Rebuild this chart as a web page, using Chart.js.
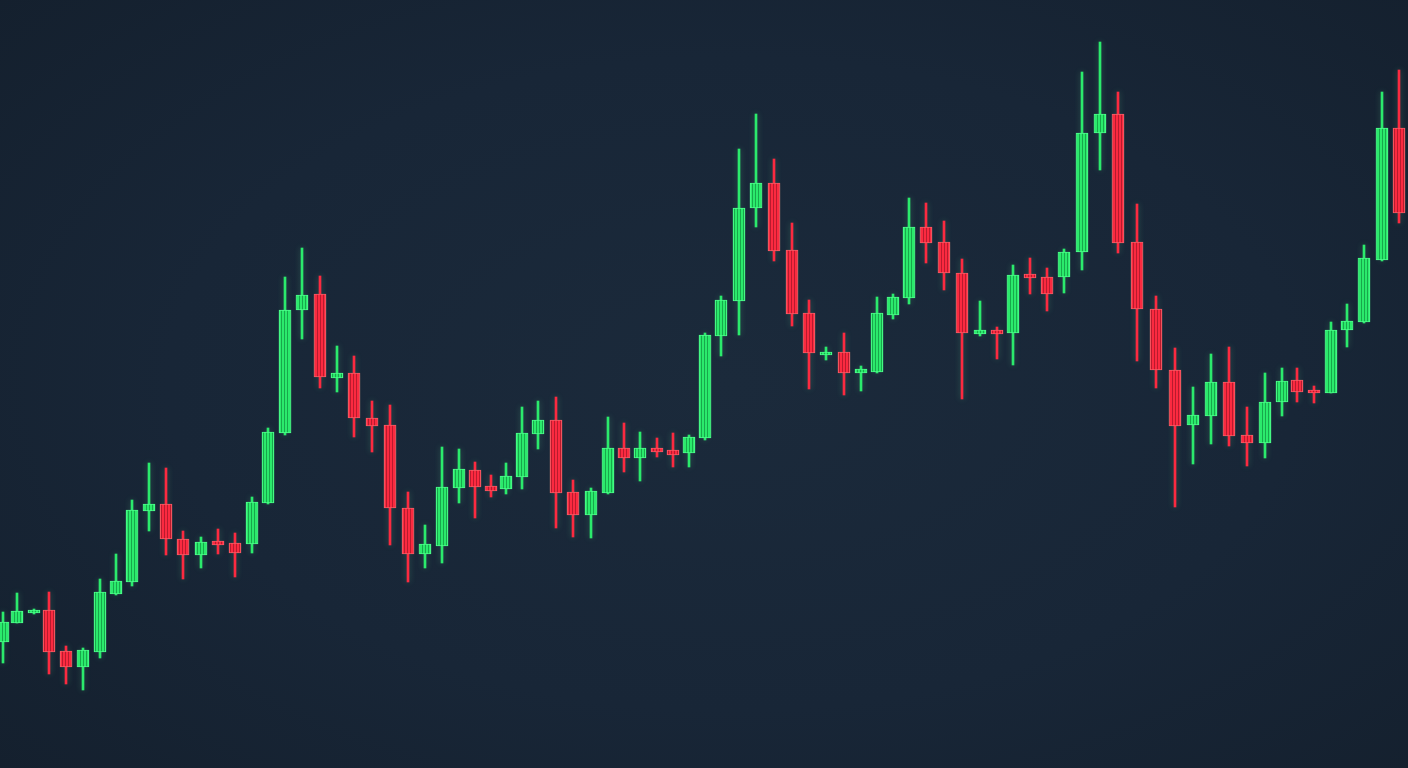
<!DOCTYPE html>
<html>
<head>
<meta charset="utf-8">
<script src="https://cdn.jsdelivr.net/npm/chart.js@4.4.1/dist/chart.umd.min.js"></script>
<style>
    html, body {
        margin: 0;
        padding: 0;
        width: 1408px;
        height: 768px;
        overflow: hidden;
        background: radial-gradient(ellipse 80% 85% at 52% 50%, #1b2a3b 0%, #182637 50%, #131e2b 100%);
    }
    .wrap {
        position: relative;
        width: 1408px;
        height: 768px;
    }
</style>
</head>
<body>
<div class="wrap"><canvas id="candles"></canvas></div>
<script>
//--------------------------------------------Data

// session time (uneven spacing as seen in the picture)
const times = [
    3, 17, 34, 49, 66, 83, 100, 116, 132, 149,
    166, 183, 201, 218, 235, 252, 268, 285, 302, 320,
    337, 354, 372, 390, 408, 425, 442, 459, 475, 491,
    506, 522, 538, 556, 573, 591, 608, 624, 640, 657,
    673, 689, 705, 721, 739, 756, 774, 792, 809, 826,
    844, 861, 877, 893, 909, 926, 944, 962, 980, 997,
    1013, 1030, 1047, 1064, 1082, 1100, 1118, 1137, 1156, 1175,
    1193, 1211, 1229, 1247, 1265, 1282, 1297, 1314, 1331, 1347,
    1364, 1382, 1399
];

const opens = [
    158, 177, 187, 190, 149, 133, 148, 206, 218, 289,
    296, 261, 245, 259, 257, 256, 297, 367, 490, 506,
    422, 427, 382, 375, 292, 246, 254, 312, 330, 314,
    311, 323, 366, 380, 308, 285, 307, 352, 342, 352,
    350, 347, 362, 464, 499, 592, 617, 550, 487, 445,
    448, 427, 428, 485, 502, 573, 558, 527, 466, 470,
    467, 526, 523, 523, 548, 667, 686, 558, 491, 430,
    375, 384, 418, 365, 357, 398, 420, 410, 407, 470,
    478, 540, 672
];

const highs = [
    188, 207, 191, 208, 154, 152, 221, 246, 300, 337,
    332, 269, 263, 271, 267, 303, 372, 523, 552, 524,
    454, 444, 399, 395, 308, 275, 353, 351, 338, 325,
    337, 393, 399, 403, 320, 312, 383, 377, 368, 362,
    367, 365, 467, 504, 651, 686, 641, 577, 500, 453,
    467, 434, 503, 506, 602, 597, 579, 541, 499, 473,
    535, 542, 532, 551, 728, 758, 708, 596, 504, 452,
    413, 446, 453, 393, 427, 432, 432, 414, 478, 496,
    555, 708, 730
];

const lows = [
    137, 177, 186, 126, 116, 110, 142, 205, 214, 269,
    245, 221, 232, 246, 223, 247, 296, 365, 461, 412,
    408, 363, 348, 255, 218, 232, 237, 297, 282, 303,
    306, 311, 351, 272, 263, 262, 306, 328, 319, 343,
    333, 333, 360, 444, 465, 573, 539, 474, 411, 440,
    405, 409, 427, 481, 496, 537, 510, 401, 464, 441,
    435, 506, 489, 507, 530, 630, 547, 439, 412, 293,
    336, 356, 354, 334, 342, 384, 398, 397, 407, 453,
    477, 539, 577
];

const closes = [
    178, 189, 190, 148, 133, 150, 208, 219, 290, 296,
    261, 245, 258, 255, 247, 298, 368, 490, 505, 423,
    427, 382, 374, 292, 246, 256, 313, 331, 313, 309,
    324, 367, 380, 307, 285, 309, 352, 342, 352, 348,
    345, 363, 465, 500, 592, 617, 549, 486, 447, 448,
    427, 431, 487, 503, 573, 557, 527, 467, 470, 466,
    525, 522, 506, 548, 667, 686, 557, 491, 430, 374,
    385, 418, 364, 357, 398, 419, 408, 407, 470, 479,
    542, 672, 587
];

const upColor = '#2bea6c';
const upDark = '#17a84b';
const upEdge = '#4dff8c';
const downColor = '#fb2a40';
const downDark = '#b81b2e';
const downEdge = '#ff5565';

//--------------------------------------------Functions

// vertical stripes like the glowing bodies in the picture
function stripes(light, dark) {
    const c = document.createElement('canvas');
    c.width = 3;
    c.height = 4;
    const g = c.getContext('2d');
    g.fillStyle = light;
    g.fillRect(0, 0, 3, 4);
    g.fillStyle = dark;
    g.fillRect(2, 0, 1, 4);
    return g.createPattern(c, 'repeat');
}

const upFill = stripes(upColor, upDark);
const downFill = stripes(downColor, downDark);

const glow = {
    id: 'glow',
    beforeDatasetsDraw(chart) {
        chart.ctx.save();
        chart.ctx.shadowBlur = 6;
        chart.ctx.shadowColor = 'rgba(120, 255, 170, 0.25)';
    },
    afterDatasetsDraw(chart) {
        chart.ctx.restore();
    }
};

//--------------------------------------------Chart

const isUp = opens.map((o, i) => closes[i] >= o);

const dataCandles = {
    datasets: [{
        label: 'body',
        data: times.map((t, i) => ({ x: t, y: [opens[i], closes[i]] })),
        backgroundColor: isUp.map(u => u ? upFill : downFill),
        borderColor: isUp.map(u => u ? upEdge : downEdge),
        borderWidth: 1,
        borderSkipped: false,
        barThickness: 12,
        minBarLength: 3,
        grouped: false,
        clip: false,
        order: 0
    }, {
        label: 'wick',
        data: times.map((t, i) => ({ x: t, y: [lows[i], highs[i]] })),
        backgroundColor: isUp.map(u => u ? upColor : downColor),
        borderWidth: 0,
        barThickness: 2,
        grouped: false,
        clip: false,
        order: 1
    }]
};

const configCandles = {
    type: 'bar',
    data: dataCandles,
    plugins: [glow],
    options: {
        responsive: true,
        maintainAspectRatio: false,
        animation: false,
        layout: {
            padding: 0
        },
        plugins: {
            legend: { display: false },
            title: { display: false },
            tooltip: { enabled: false }
        },
        scales: {
            x: {
                type: 'linear',
                display: false,
                min: 0,
                max: 1408,
                offset: false,
                grid: { display: false }
            },
            y: {
                display: false,
                min: 32,
                max: 800,
                grid: { display: false }
            }
        }
    }
};

new Chart(document.getElementById('candles'), configCandles);
</script>
</body>
</html>
